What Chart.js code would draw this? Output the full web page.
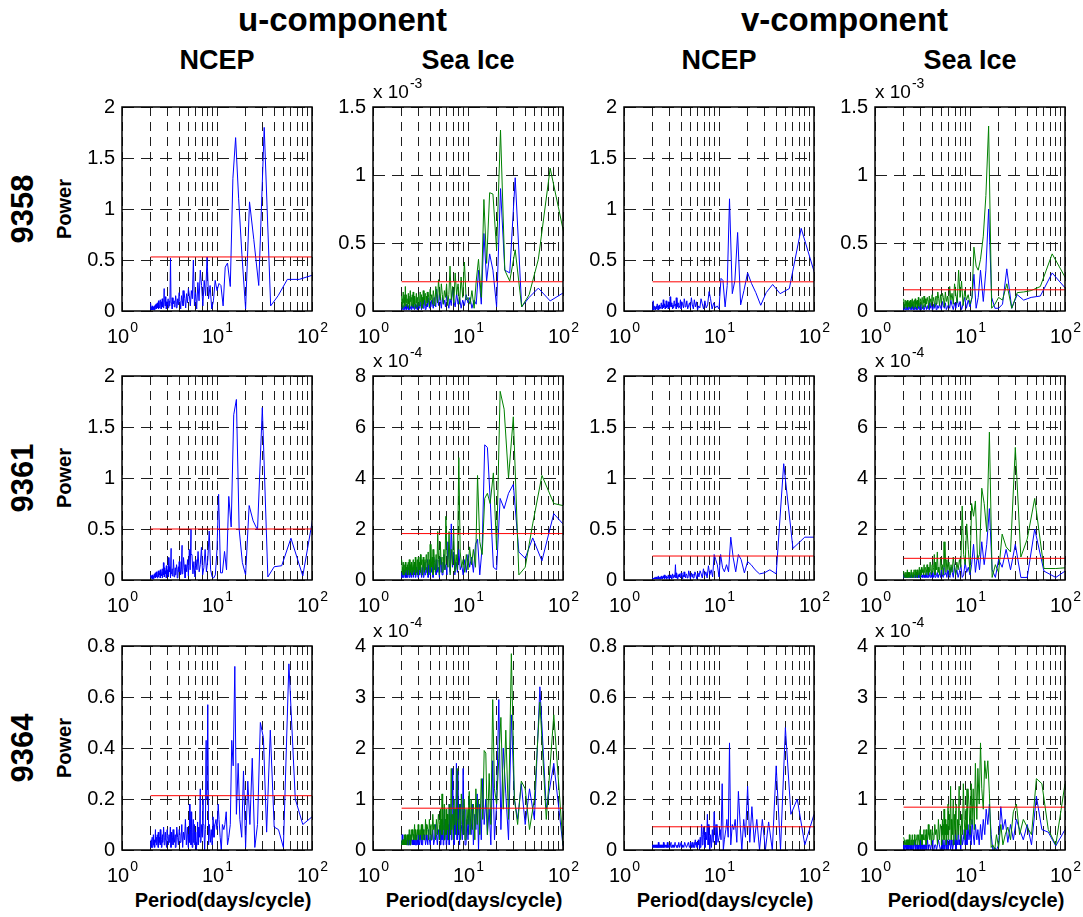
<!DOCTYPE html>
<html lang="en">
<head>
<meta charset="UTF-8">
<meta name="viewport" content="width=device-width, initial-scale=1.0">
<script src="https://cdn.jsdelivr.net/npm/chart.js"></script>
<title>Power spectra 9358 / 9361 / 9364</title>
<style>
  html, body { margin: 0; padding: 0; background: #fff; }
  #figure { position: relative; width: 1083px; height: 917px; overflow: hidden;
            font-family: "Liberation Sans", Arial, Helvetica, sans-serif; color: #000; }
  #figure canvas { position: absolute; }
  .lbl { position: absolute; font-weight: bold; white-space: nowrap; line-height: 1;
         transform: translate(-50%, -50%); }
  .rot { transform: translate(-50%, -50%) rotate(-90deg); }
</style>
</head>
<body>
<div id="figure"></div>
<script>
// periods (days/cycle) of the spectral estimates, one list per station record
const periods9358 = [
  110, 73.3, 55, 44, 36.7, 31.4, 27.5, 24.4, 22, 20,
  18.3, 16.9, 15.7, 14.7, 13.8, 12.9, 12.2, 11.6, 11, 10.5,
  10, 9.57, 9.17, 8.8, 8.46, 8.15, 7.86, 7.59, 7.33, 7.1,
  6.88, 6.67, 6.47, 6.29, 6.11, 5.95, 5.79, 5.64, 5.5, 5.37,
  5.24, 5.12, 5, 4.89, 4.78, 4.68, 4.58, 4.49, 4.4, 4.31,
  4.23, 4.15, 4.07, 4, 3.93, 3.86, 3.79, 3.73, 3.67, 3.61,
  3.55, 3.49, 3.44, 3.38, 3.33, 3.28, 3.24, 3.19, 3.14, 3.1,
  3.06, 3.01, 2.97, 2.93, 2.89, 2.86, 2.82, 2.78, 2.75, 2.72,
  2.68, 2.65, 2.62, 2.59, 2.56, 2.53, 2.5, 2.47, 2.44, 2.42,
  2.39, 2.37, 2.34, 2.32, 2.29, 2.27, 2.24, 2.22, 2.2, 2.18,
  2.16, 2.14, 2.12, 2.1, 2.08, 2.06, 2.04, 2.02, 2
];
const periods9361 = [
  120, 80, 60, 48, 40, 34.3, 30, 26.7, 24, 21.8,
  20, 18.5, 17.1, 16, 15, 14.1, 13.3, 12.6, 12, 11.4,
  10.9, 10.4, 10, 9.6, 9.23, 8.89, 8.57, 8.28, 8, 7.74,
  7.5, 7.27, 7.06, 6.86, 6.67, 6.49, 6.32, 6.15, 6, 5.85,
  5.71, 5.58, 5.45, 5.33, 5.22, 5.11, 5, 4.9, 4.8, 4.71,
  4.62, 4.53, 4.44, 4.36, 4.29, 4.21, 4.14, 4.07, 4, 3.93,
  3.87, 3.81, 3.75, 3.69, 3.64, 3.58, 3.53, 3.48, 3.43, 3.38,
  3.33, 3.29, 3.24, 3.2, 3.16, 3.12, 3.08, 3.04, 3, 2.96,
  2.93, 2.89, 2.86, 2.82, 2.79, 2.76, 2.73, 2.7, 2.67, 2.64,
  2.61, 2.58, 2.55, 2.53, 2.5, 2.47, 2.45, 2.42, 2.4, 2.38,
  2.35, 2.33, 2.31, 2.29, 2.26, 2.24, 2.22, 2.2, 2.18, 2.16,
  2.14, 2.12, 2.11, 2.09, 2.07, 2.05, 2.03, 2.02, 2
];
const periods9364 = [
  100, 80, 66.7, 57.1, 50, 44.4, 40, 36.4, 33.3, 30.8,
  28.6, 26.7, 25, 23.5, 22.2, 21.1, 20, 19, 18.2, 17.4,
  16.7, 16, 15.4, 14.8, 14.3, 13.8, 13.3, 12.9, 12.5, 12.1,
  11.8, 11.4, 11.1, 10.8, 10.5, 10.3, 10, 9.76, 9.52, 9.3,
  9.09, 8.89, 8.7, 8.51, 8.33, 8.16, 8, 7.84, 7.69, 7.55,
  7.41, 7.27, 7.14, 7.02, 6.9, 6.78, 6.67, 6.56, 6.45, 6.35,
  6.25, 6.15, 6.06, 5.97, 5.88, 5.8, 5.71, 5.63, 5.56, 5.48,
  5.41, 5.33, 5.26, 5.19, 5.13, 5.06, 5,
  4.88, 4.76, 4.65, 4.55, 4.44, 4.35, 4.26, 4.17, 4.08, 4,
  3.92, 3.85, 3.77, 3.7, 3.64, 3.57, 3.51, 3.45, 3.39, 3.33,
  3.28, 3.23, 3.17, 3.13, 3.08, 3.03, 2.99, 2.94, 2.9, 2.86,
  2.82, 2.78, 2.74, 2.7, 2.67, 2.63, 2.6, 2.56, 2.53, 2.5,
  2.47, 2.44, 2.41, 2.38, 2.35, 2.33, 2.3, 2.27, 2.25, 2.22,
  2.2, 2.17, 2.15, 2.13, 2.11, 2.08, 2.06, 2.04, 2.02, 2
];

// ---- station 9358 ----
const uNcep9358 = [
  0.362, 0.31, 0.31, 0.15, 0.05, 1.8, 0.25, 0.7, 1.07, 0.02,
  0.55, 1.1, 1.7, 1.3, 0.24, 0.47, 0.43, 0.05, 0.25, 0.27,
  0.2, 0.3, 0.1, 0.02, 0.25, 0.12, 0.53, 0.15, 0.3, 0.05,
  0.25, 0.4, 0.1, 0.28, 0.02, 0.18, 0.05, 0.5, 0.12, 0.2,
  0.05, 0.15, 0.22, 0.08, 0.17, 0.03, 0.12, 0.2, 0.05, 0.1,
  0.15, 0.02, 0.1, 0.18, 0.06, 0.12, 0.03, 0.09, 0.15, 0.04,
  0.1, 0.07, 0.13, 0.02, 0.08, 0.11, 0.52, 0.05, 0.1, 0.03,
  0.12, 0.06, 0.09, 0.02, 0.14, 0.05, 0.1, 0.22, 0.03, 0.08,
  0.12, 0.04, 0.09, 0.02, 0.07, 0.11, 0.03, 0.06, 0.1, 0.02,
  0.08, 0.05, 0.03, 0.07, 0.02, 0.06, 0.04, 0.01, 0.05, 0.02,
  0.04, 0.01, 0.03, 0.05, 0.01, 0.02, 0.04, 0.01, 0.08
];
const uIceBlue9358 = [
  0.15, 0.074, 0.168, 0.1, 0.03, 0.98, 0.28, 0.3, 0.9, 0.03,
  0.3, 0.42, 0.22, 0.57, 0.05, 0.3, 0.05, 0.08, 0.02, 0.1,
  0.06, 0.12, 0.04, 0.08, 0.02, 0.1, 0.05, 0.13, 0.03, 0.07,
  0.17, 0.04, 0.09, 0.02, 0.06, 0.11, 0.03, 0.08, 0.05, 0.1,
  0.02, 0.07, 0.12, 0.04, 0.09, 0.16, 0.03, 0.06, 0.1, 0.02,
  0.05, 0.08, 0.03, 0.07, 0.02, 0.06, 0.1, 0.03, 0.05, 0.01,
  0.04, 0.08, 0.02, 0.06, 0.03, 0.05, 0.01, 0.04, 0.07, 0.02,
  0.05, 0.03, 0.06, 0.01, 0.04, 0.02, 0.05, 0.03, 0.01, 0.04,
  0.06, 0.02, 0.03, 0.05, 0.01, 0.04, 0.02, 0.03, 0.01, 0.05,
  0.02, 0.04, 0.01, 0.03, 0.02, 0.05, 0.01, 0.03, 0.02, 0.04,
  0.01, 0.03, 0.02, 0.01, 0.04, 0.02, 0.01, 0.03, 0.02
];
const uIceGreen9358 = [
  0.463, 1.05, 0.38, 0.12, 0.03, 0.45, 0.22, 0.3, 1.33, 0.45,
  0.86, 0.87, 0.35, 0.82, 0.1, 0.38, 0.22, 0.02, 0.15, 0.05,
  0.1, 0.08, 0.36, 0.1, 0.25, 0.05, 0.2, 0.12, 0.28, 0.06,
  0.18, 0.08, 0.33, 0.12, 0.04, 0.2, 0.1, 0.15, 0.05, 0.12,
  0.2, 0.08, 0.14, 0.23, 0.06, 0.12, 0.18, 0.04, 0.1, 0.15,
  0.05, 0.12, 0.08, 0.16, 0.03, 0.1, 0.14, 0.06, 0.11, 0.04,
  0.13, 0.08, 0.15, 0.05, 0.1, 0.02, 0.12, 0.07, 0.14, 0.04,
  0.09, 0.12, 0.03, 0.1, 0.06, 0.13, 0.02, 0.08, 0.11, 0.05,
  0.14, 0.03, 0.09, 0.12, 0.04, 0.1, 0.07, 0.15, 0.02, 0.08,
  0.11, 0.05, 0.13, 0.03, 0.09, 0.06, 0.12, 0.04, 0.18, 0.07,
  0.1, 0.03, 0.12, 0.06, 0.14, 0.02, 0.09, 0.05, 0.11
];
const vNcep9358 = [
  0.26, 0.81, 0.22, 0.17, 0.26, 0.18, 0.056, 0.18, 0.27, 0.375,
  0.2, 0.06, 0.77, 0.3, 0.17, 1.1, 0.25, 0.04, 0.3, 0.32,
  0.02, 0.05, 0.03, 0.08, 0.02, 0.12, 0.19, 0.06, 0.03, 0.1,
  0.02, 0.07, 0.12, 0.03, 0.05, 0.01, 0.09, 0.04, 0.11, 0.02,
  0.06, 0.13, 0.03, 0.08, 0.05, 0.02, 0.1, 0.04, 0.07, 0.12,
  0.03, 0.06, 0.09, 0.02, 0.11, 0.05, 0.03, 0.08, 0.04, 0.13,
  0.02, 0.07, 0.05, 0.1, 0.03, 0.06, 0.02, 0.08, 0.04, 0.14,
  0.05, 0.03, 0.09, 0.02, 0.06, 0.04, 0.1, 0.03, 0.05, 0.02,
  0.07, 0.04, 0.11, 0.03, 0.06, 0.02, 0.05, 0.08, 0.03, 0.04,
  0.02, 0.06, 0.03, 0.05, 0.01, 0.04, 0.07, 0.02, 0.03, 0.05,
  0.02, 0.04, 0.01, 0.03, 0.05, 0.02, 0.1, 0.01, 0.02
];
const vIceBlue9358 = [
  0.137, 0.28, 0.11, 0.1, 0.08, 0.12, 0.02, 0.31, 0.05, 0.02,
  0.02, 0.1, 0.75, 0.3, 0.07, 0.3, 0.1, 0.02, 0.27, 0.1,
  0.03, 0.08, 0.02, 0.1, 0.05, 0.01, 0.07, 0.03, 0.09, 0.02,
  0.06, 0.01, 0.04, 0.08, 0.02, 0.05, 0.03, 0.01, 0.06, 0.02,
  0.04, 0.07, 0.01, 0.03, 0.05, 0.02, 0.04, 0.01, 0.06, 0.03,
  0.02, 0.05, 0.01, 0.03, 0.04, 0.02, 0.06, 0.01, 0.03, 0.02,
  0.04, 0.01, 0.03, 0.05, 0.02, 0.01, 0.04, 0.02, 0.03, 0.01,
  0.05, 0.02, 0.01, 0.03, 0.02, 0.04, 0.01, 0.02, 0.03, 0.01,
  0.02, 0.04, 0.01, 0.03, 0.02, 0.01, 0.05, 0.02, 0.01, 0.03,
  0.02, 0.01, 0.03, 0.02, 0.04, 0.01, 0.02, 0.03, 0.01, 0.02,
  0.01, 0.03, 0.02, 0.01, 0.02, 0.04, 0.01, 0.02, 0.01
];
const vIceGreen9358 = [
  0.198, 0.42, 0.18, 0.15, 0.14, 0.135, 0.02, 0.2, 0.08, 0.1,
  0.05, 0.02, 1.36, 0.85, 0.55, 0.38, 0.3, 0.33, 0.47, 0.1,
  0.05, 0.12, 0.08, 0.15, 0.04, 0.22, 0.1, 0.3, 0.06, 0.12,
  0.2, 0.05, 0.13, 0.08, 0.18, 0.04, 0.11, 0.07, 0.14, 0.03,
  0.1, 0.13, 0.06, 0.12, 0.04, 0.09, 0.14, 0.05, 0.11, 0.08,
  0.03, 0.1, 0.07, 0.12, 0.04, 0.09, 0.06, 0.11, 0.02, 0.08,
  0.1, 0.05, 0.09, 0.03, 0.11, 0.06, 0.08, 0.02, 0.1, 0.05,
  0.07, 0.09, 0.03, 0.06, 0.1, 0.04, 0.08, 0.02, 0.07, 0.05,
  0.09, 0.03, 0.06, 0.08, 0.02, 0.07, 0.04, 0.09, 0.03, 0.06,
  0.08, 0.02, 0.05, 0.07, 0.03, 0.06, 0.04, 0.08, 0.02, 0.05,
  0.07, 0.03, 0.06, 0.04, 0.08, 0.02, 0.05, 0.03, 0.09
];

// ---- station 9361 ----
const uNcep9361 = [
  0.985, 0.04, 0.41, 0.14, 0.13, 0.03, 1.69, 0.49, 0.58, 0.73,
  0.05, 0.17, 0.5, 1.77, 1.62, 0.52, 0.82, 0.1, 0.28, 0.07,
  0.07, 0.84, 0.3, 0.05, 0.02, 0.03, 0.1, 0.48, 0.2, 0.08,
  0.3, 0.12, 0.05, 0.32, 0.15, 0.08, 0.28, 0.1, 0.2, 0.03,
  0.18, 0.06, 0.25, 0.5, 0.1, 0.3, 0.04, 0.2, 0.08, 0.15,
  0.02, 0.12, 0.22, 0.06, 0.34, 0.1, 0.05, 0.18, 0.08, 0.13,
  0.02, 0.1, 0.15, 0.05, 0.12, 0.03, 0.09, 0.2, 0.04, 0.11,
  0.06, 0.31, 0.02, 0.13, 0.08, 0.22, 0.03, 0.1, 0.05, 0.14,
  0.02, 0.09, 0.06, 0.12, 0.03, 0.17, 0.05, 0.08, 0.02, 0.11,
  0.06, 0.04, 0.1, 0.02, 0.07, 0.05, 0.09, 0.03, 0.06, 0.02,
  0.05, 0.08, 0.03, 0.04, 0.07, 0.02, 0.05, 0.03, 0.06, 0.01,
  0.04, 0.02, 0.05, 0.03, 0.01, 0.04, 0.02, 0.03, 0.05
];
const uIceBlue9361 = [
  1.87, 2.6, 0.75, 1.65, 0.85, 1.1, 3.75, 3.4, 2.8, 3.2,
  0.4, 0.5, 3.2, 5.2, 5.3, 1.3, 0.2, 1.6, 1.4, 0.3,
  0.9, 0.5, 1.0, 0.3, 0.8, 0.2, 0.6, 0.4, 1.2, 0.3,
  0.7, 0.2, 1.1, 0.5, 2.2, 0.3, 0.8, 1.5, 0.2, 0.6,
  0.4, 1.0, 0.2, 0.7, 0.3, 0.9, 0.1, 0.5, 0.3, 0.8,
  0.2, 0.6, 0.4, 0.9, 0.1, 0.5, 0.3, 0.7, 0.2, 0.4,
  0.6, 0.1, 0.8, 0.3, 0.5, 0.2, 0.7, 0.4, 0.1, 0.6,
  0.3, 0.5, 0.1, 0.4, 0.7, 0.2, 0.3, 0.6, 0.1, 0.4,
  0.2, 0.5, 0.3, 0.1, 0.4, 0.6, 0.2, 0.3, 0.1, 0.5,
  0.2, 0.4, 0.1, 0.3, 0.5, 0.2, 0.1, 0.4, 0.3, 0.2,
  0.5, 0.1, 0.3, 0.2, 0.4, 0.1, 0.3, 0.2, 0.1, 0.4,
  0.2, 0.3, 0.1, 0.2, 0.4, 0.1, 0.2, 0.3, 0.1
];
const uIceGreen9361 = [
  2.85, 3.0, 4.1, 2.2, 0.5, 0.2, 6.4, 4.0, 6.7, 7.4,
  1.2, 4.2, 3.0, 3.4, 3.2, 1.0, 1.5, 4.1, 0.5, 1.2,
  0.6, 1.3, 0.4, 1.0, 0.3, 0.8, 0.5, 1.1, 4.8, 0.4,
  1.0, 0.3, 2.0, 0.6, 1.2, 0.2, 1.9, 0.5, 1.0, 2.5,
  0.4, 1.2, 0.3, 0.9, 0.6, 1.5, 0.2, 0.8, 1.9, 0.4,
  1.0, 0.3, 0.7, 1.2, 0.2, 0.9, 0.5, 1.4, 0.3, 0.8,
  0.6, 1.1, 0.2, 0.7, 1.0, 0.4, 0.8, 0.3, 0.9, 0.5,
  0.2, 0.8, 0.6, 1.0, 0.3, 0.7, 0.4, 0.9, 0.2, 0.6,
  0.8, 0.3, 0.5, 0.9, 0.2, 0.7, 0.4, 0.6, 0.3, 0.8,
  0.5, 0.2, 0.7, 0.4, 0.6, 0.3, 0.8, 0.2, 0.5, 0.4,
  0.7, 0.3, 0.6, 0.2, 0.5, 0.4, 0.7, 0.3, 0.5, 0.2,
  0.6, 0.4, 0.3, 0.7, 0.2, 0.5, 0.3, 0.6, 0.8
];
const vNcep9361 = [
  0.42, 0.42, 0.31, 1.14, 0.06, 0.1, 0.07, 0.06, 0.1, 0.15,
  0.18, 0.07, 0.2, 0.25, 0.08, 0.22, 0.42, 0.08, 0.15, 0.08,
  0.12, 0.25, 0.03, 0.15, 0.2, 0.25, 0.03, 0.1, 0.05, 0.14,
  0.02, 0.08, 0.04, 0.11, 0.02, 0.06, 0.09, 0.03, 0.07, 0.01,
  0.05, 0.08, 0.02, 0.06, 0.03, 0.07, 0.01, 0.05, 0.09, 0.02,
  0.04, 0.06, 0.02, 0.08, 0.03, 0.05, 0.01, 0.07, 0.04, 0.02,
  0.06, 0.03, 0.05, 0.01, 0.04, 0.07, 0.02, 0.15, 0.03, 0.05,
  0.02, 0.04, 0.06, 0.01, 0.03, 0.05, 0.02, 0.04, 0.01, 0.03,
  0.05, 0.02, 0.03, 0.01, 0.04, 0.02, 0.03, 0.05, 0.01, 0.02,
  0.04, 0.02, 0.03, 0.01, 0.02, 0.04, 0.01, 0.03, 0.02, 0.01,
  0.03, 0.02, 0.01, 0.04, 0.02, 0.01, 0.03, 0.02, 0.01, 0.02,
  0.01, 0.03, 0.02, 0.01, 0.02, 0.01, 0.02, 0.01, 0.02
];
const vIceBlue9361 = [
  0.55, 0.1, 0.35, 2.0, 0.1, 0.1, 1.4, 0.4, 1.2, 0.5,
  0.8, 0.1, 0.4, 2.8, 1.4, 0.6, 1.5, 0.4, 1.0, 0.3,
  1.4, 0.6, 0.2, 0.5, 0.3, 0.7, 0.2, 0.1, 0.6, 0.3,
  0.1, 0.4, 0.2, 0.6, 0.1, 0.3, 0.5, 0.1, 0.2, 0.4,
  0.1, 0.3, 0.2, 0.5, 0.1, 0.2, 0.4, 0.1, 0.3, 0.2,
  0.1, 0.3, 0.2, 0.1, 0.4, 0.2, 0.1, 0.3, 0.1, 0.2,
  0.1, 0.3, 0.2, 0.1, 0.2, 0.1, 0.3, 0.1, 0.2, 0.1,
  0.2, 0.1, 0.3, 0.1, 0.2, 0.1, 0.1, 0.2, 0.1, 0.3,
  0.1, 0.2, 0.1, 0.1, 0.2, 0.1, 0.3, 0.1, 0.2, 0.1,
  0.1, 0.2, 0.1, 0.1, 0.2, 0.1, 0.1, 0.2, 0.1, 0.1,
  0.2, 0.1, 0.1, 0.2, 0.1, 0.1, 0.2, 0.1, 0.1, 0.2,
  0.1, 0.1, 0.2, 0.1, 0.1, 0.2, 0.1, 0.1, 0.1
];
const vIceGreen9361 = [
  0.5, 0.45, 0.45, 3.2, 1.6, 0.9, 5.2, 1.1, 1.3, 1.8,
  0.3, 0.6, 0.1, 5.8, 1.9, 3.0, 3.6, 1.0, 0.8, 3.1,
  2.5, 3.0, 0.3, 1.2, 2.2, 0.6, 1.0, 2.9, 0.5, 0.8,
  0.4, 0.7, 0.2, 0.5, 0.9, 0.3, 0.6, 0.2, 0.7, 0.4,
  0.8, 0.3, 1.5, 0.5, 0.2, 0.6, 0.4, 0.9, 0.2, 0.5,
  0.3, 1.1, 0.4, 0.7, 0.2, 1.0, 0.5, 0.3, 0.6, 0.2,
  0.4, 0.7, 0.3, 0.5, 0.2, 0.6, 0.3, 0.4, 0.2, 0.5,
  0.3, 0.6, 0.2, 0.4, 0.3, 0.5, 0.2, 0.4, 0.1, 0.3,
  0.5, 0.2, 0.3, 0.4, 0.1, 0.3, 0.2, 0.4, 0.1, 0.3,
  0.2, 0.4, 0.1, 0.3, 0.2, 0.1, 0.3, 0.2, 0.4, 0.1,
  0.2, 0.3, 0.1, 0.2, 0.3, 0.1, 0.2, 0.4, 0.1, 0.2,
  0.3, 0.1, 0.2, 0.1, 0.3, 0.2, 0.1, 0.2, 0.35
];

// ---- station 9364 ----
const uNcep9364 = [
  0.13, 0.1, 0.2, 0.73, 0.01, 0.08, 0.09, 0.47, 0.07, 0.44,
  0.5, 0.1, 0.01, 0.36, 0.1, 0.27, 0.01, 0.31, 0.05, 0.12,
  0.34, 0.14, 0.72, 0.33, 0.43, 0.1, 0.05, 0.02, 0.15, 0.1,
  0.08, 0.1, 0.0, 0.05, 0.12, 0.18, 0.08, 0.12, 0.1, 0.05,
  0.13, 0.02, 0.08, 0.03, 0.1, 0.02, 0.57, 0.2, 0.43, 0.08,
  0.0, 0.1, 0.2, 0.05, 0.1, 0.03, 0.24, 0.05, 0.09, 0.02,
  0.11, 0.03, 0.0, 0.07, 0.02, 0.1, 0.03, 0.12, 0.01, 0.07,
  0.15, 0.02, 0.08, 0.18, 0.03, 0.06, 0.01,
  0.09, 0.02, 0.12, 0.04, 0.07, 0.01, 0.1, 0.03, 0.06, 0.08,
  0.02, 0.05, 0.09, 0.01, 0.06, 0.03, 0.08, 0.02, 0.05, 0.07,
  0.01, 0.09, 0.03, 0.06, 0.02, 0.05, 0.08, 0.01, 0.04, 0.07,
  0.02, 0.05, 0.09, 0.03, 0.06, 0.01, 0.04, 0.08, 0.02, 0.05,
  0.03, 0.07, 0.01, 0.04, 0.06, 0.02, 0.05, 0.03, 0.08, 0.01,
  0.04, 0.02, 0.06, 0.03, 0.01, 0.05, 0.02, 0.04, 0.01, 0.03
];
const uIceBlue9364 = [
  0.08, 1.7, 0.8, 3.2, 0.6, 1.2, 0.5, 1.3, 0.6, 1.0,
  2.65, 0.2, 1.1, 2.0, 0.4, 2.95, 0.9, 0.2, 1.75, 0.1,
  0.8, 0.3, 1.0, 0.5, 1.4, 0.2, 0.9, 0.0, 1.1, 0.4,
  0.7, 0.1, 0.9, 0.3, 0.5, 1.0, 0.2, 0.6, 0.1, 0.8,
  0.3, 1.6, 0.2, 0.5, 0.9, 0.1, 0.4, 1.55, 0.2, 1.7,
  0.3, 0.8, 0.1, 0.5, 1.6, 0.2, 0.7, 0.3, 0.9, 0.1,
  0.5, 0.2, 0.7, 0.1, 0.4, 0.6, 0.2, 0.8, 0.1, 0.3,
  0.6, 0.2, 0.4, 0.1, 0.5, 0.3, 0.2,
  0.4, 0.1, 0.3, 0.5, 0.2, 0.1, 0.4, 0.2, 0.3, 0.1,
  0.2, 0.4, 0.1, 0.3, 0.2, 0.1, 0.3, 0.2, 0.4, 0.1,
  0.2, 0.1, 0.3, 0.2, 0.1, 0.3, 0.1, 0.2, 0.1, 0.3,
  0.1, 0.2, 0.1, 0.3, 0.1, 0.2, 0.1, 0.2, 0.3, 0.1,
  0.2, 0.1, 0.2, 0.1, 0.3, 0.1, 0.2, 0.1, 0.1, 0.2,
  0.1, 0.2, 0.1, 0.1, 0.2, 0.1, 0.3, 0.1, 0.2, 0.1
];
const uIceGreen9364 = [
  0.1, 2.65, 0.6, 2.9, 1.0, 0.4, 1.2, 1.35, 0.5, 1.0,
  3.85, 0.6, 2.35, 0.8, 2.6, 1.8, 0.9, 1.2, 2.95, 0.5,
  1.5, 0.3, 1.9, 1.95, 0.6, 1.4, 0.3, 1.0, 0.5, 1.2,
  0.2, 0.9, 0.4, 1.0, 0.3, 1.15, 0.5, 0.8, 0.2, 0.6,
  1.0, 0.3, 0.7, 1.1, 0.2, 0.9, 0.4, 0.6, 1.6, 0.3,
  0.8, 0.5, 1.0, 0.2, 0.7, 0.4, 1.6, 0.3, 0.6, 0.9,
  0.2, 0.7, 0.4, 0.8, 0.3, 0.6, 0.2, 0.9, 0.4, 0.5,
  1.1, 0.3, 0.6, 0.4, 0.8, 0.2, 0.5,
  0.7, 0.3, 0.6, 0.2, 0.5, 0.4, 0.7, 0.2, 0.5, 0.3,
  0.6, 0.2, 0.4, 0.5, 0.3, 0.6, 0.2, 0.4, 0.3, 0.5,
  0.2, 0.5, 0.3, 0.4, 0.2, 0.5, 0.3, 0.4, 0.2, 0.3,
  0.4, 0.2, 0.5, 0.3, 0.2, 0.4, 0.3, 0.2, 0.4, 0.1,
  0.3, 0.2, 0.4, 0.1, 0.3, 0.2, 0.3, 0.1, 0.2, 0.3,
  0.1, 0.2, 0.3, 0.1, 0.2, 0.1, 0.2, 0.1, 0.2, 0.1
];
const vNcep9364 = [
  0.14, 0.02, 0.2, 0.14, 0.48, 0.0, 0.33, 0.0, 0.11, 0.0,
  0.12, 0.0, 0.12, 0.03, 0.17, 0.03, 0.25, 0.05, 0.12, 0.0,
  0.1, 0.23, 0.03, 0.12, 0.08, 0.1, 0.02, 0.42, 0.05, 0.12,
  0.08, 0.04, 0.0, 0.26, 0.04, 0.08, 0.05, 0.03, 0.1, 0.02,
  0.07, 0.15, 0.03, 0.08, 0.01, 0.06, 0.0, 0.1, 0.02, 0.14,
  0.04, 0.07, 0.01, 0.05, 0.09, 0.02, 0.06, 0.1, 0.01, 0.05,
  0.0, 0.04, 0.02, 0.03, 0.01, 0.03, 0.02, 0.04, 0.01, 0.03,
  0.02, 0.01, 0.03, 0.02, 0.01, 0.03, 0.02,
  0.01, 0.03, 0.02, 0.01, 0.02, 0.03, 0.01, 0.02, 0.01, 0.03,
  0.02, 0.01, 0.03, 0.01, 0.02, 0.01, 0.02, 0.03, 0.01, 0.02,
  0.01, 0.02, 0.01, 0.03, 0.02, 0.01, 0.02, 0.01, 0.03, 0.01,
  0.02, 0.01, 0.02, 0.01, 0.02, 0.03, 0.01, 0.02, 0.01, 0.02,
  0.01, 0.02, 0.01, 0.02, 0.01, 0.03, 0.01, 0.02, 0.01, 0.02,
  0.01, 0.02, 0.01, 0.01, 0.02, 0.01, 0.02, 0.01, 0.01, 0.02
];
const vIceBlue9364 = [
  0.4, 0.08, 0.35, 0.4, 1.05, 0.1, 0.5, 0.2, 0.4, 0.6,
  0.2, 0.5, 0.15, 0.6, 0.4, 0.85, 0.1, 0.0, 0.05, 0.0,
  0.3, 0.9, 0.5, 0.8, 0.3, 0.6, 0.2, 0.5, 0.1, 0.4,
  0.2, 0.5, 0.1, 0.3, 0.6, 0.1, 0.4, 0.2, 0.5, 0.1,
  0.3, 0.1, 0.4, 0.2, 0.1, 0.3, 0.0, 0.2, 0.1, 0.4,
  0.1, 0.2, 0.0, 0.3, 0.1, 0.2, 0.1, 0.0, 0.2, 0.1,
  0.0, 0.2, 0.1, 0.1, 0.0, 0.2, 0.1, 0.0, 0.1, 0.2,
  0.1, 0.0, 0.1, 0.2, 0.0, 0.1, 0.1,
  0.0, 0.1, 0.2, 0.1, 0.0, 0.1, 0.1, 0.0, 0.2, 0.1,
  0.1, 0.0, 0.1, 0.1, 0.0, 0.2, 0.1, 0.0, 0.1, 0.1,
  0.0, 0.1, 0.1, 0.0, 0.1, 0.2, 0.0, 0.1, 0.1, 0.0,
  0.1, 0.0, 0.1, 0.1, 0.0, 0.1, 0.2, 0.0, 0.1, 0.0,
  0.1, 0.1, 0.0, 0.1, 0.0, 0.1, 0.1, 0.0, 0.1, 0.0,
  0.1, 0.0, 0.1, 0.0, 0.1, 0.1, 0.0, 0.1, 0.0, 0.1
];
const vIceGreen9364 = [
  1.3, 0.1, 0.4, 1.3, 1.4, 0.3, 0.45, 0.6, 0.3, 0.9,
  0.75, 0.2, 0.45, 0.3, 0.1, 0.5, 0.05, 0.3, 0.0, 0.1,
  0.05, 1.1, 1.75, 1.4, 1.75, 0.8, 1.2, 2.1, 0.9, 1.6,
  0.6, 1.7, 0.4, 1.2, 0.5, 1.3, 0.3, 0.9, 1.2, 0.4,
  0.8, 0.2, 0.6, 1.3, 0.3, 0.7, 0.1, 0.5, 1.25, 0.3,
  0.6, 0.2, 0.9, 0.4, 0.7, 0.1, 1.0, 0.3, 0.6, 0.2,
  1.25, 0.4, 0.7, 0.2, 0.9, 0.3, 0.5, 0.1, 0.6, 0.3,
  0.8, 0.2, 0.5, 0.3, 0.6, 0.1, 0.4,
  0.5, 0.2, 0.6, 0.1, 0.4, 0.3, 0.5, 0.2, 0.3, 0.4,
  0.1, 0.4, 0.2, 0.5, 0.3, 0.2, 0.4, 0.1, 0.3, 0.2,
  0.4, 0.2, 0.3, 0.1, 0.3, 0.2, 0.4, 0.1, 0.2, 0.3,
  0.1, 0.3, 0.2, 0.2, 0.1, 0.3, 0.2, 0.1, 0.2, 0.1,
  0.3, 0.1, 0.2, 0.1, 0.2, 0.3, 0.1, 0.2, 0.1, 0.2,
  0.1, 0.2, 0.1, 0.2, 0.1, 0.1, 0.2, 0.1, 0.2, 0.25
];

// 95% significance level of each panel, rows = stations, cols = uNCEP, uIce, vNCEP, vIce
const sigLevels = [
  [0.53, 0.215, 0.286, 0.156],
  [0.5, 1.82, 0.235, 0.85],
  [0.213, 0.82, 0.091, 0.84]
];
const yMax = [[2, 1.5, 2, 1.5], [2, 8, 2, 8], [0.8, 4, 0.8, 4]];
const yStep = [[0.5, 0.5, 0.5, 0.5], [0.5, 2, 0.5, 2], [0.2, 1, 0.2, 1]];
const yExponent = [[0, -3, 0, -3], [0, -4, 0, -4], [0, -4, 0, -4]];
const stations = ['9358', '9361', '9364'];
const columnNames = ['NCEP', 'Sea Ice', 'NCEP', 'Sea Ice'];
const componentNames = ['u-component', 'v-component'];
const gridPeriods = [1, 2, 3, 4, 5, 6, 7, 8, 9, 10, 20, 30, 40, 50, 60, 70, 80, 90, 100];

const panels = [
  [0, 0, periods9358, uNcep9358, null],
  [0, 1, periods9358, uIceBlue9358, uIceGreen9358],
  [0, 2, periods9358, vNcep9358, null],
  [0, 3, periods9358, vIceBlue9358, vIceGreen9358],
  [1, 0, periods9361, uNcep9361, null],
  [1, 1, periods9361, uIceBlue9361, uIceGreen9361],
  [1, 2, periods9361, vNcep9361, null],
  [1, 3, periods9361, vIceBlue9361, vIceGreen9361],
  [2, 0, periods9364, uNcep9364, null],
  [2, 1, periods9364, uIceBlue9364, uIceGreen9364],
  [2, 2, periods9364, vNcep9364, null],
  [2, 3, periods9364, vIceBlue9364, vIceGreen9364]
];

// layout
const plotLeft = [122, 373, 624, 875];
const plotTop = [107, 376, 646];
const plotW = 190, plotH = 204;
const padL = 62, padR = 28, padT = 32, padB = 44;
const FONT = '"Liberation Sans", Arial, Helvetica, sans-serif';
const GRID = '#1e1e1e';

const fig = document.getElementById('figure');

function addLabel(text, x, y, size, rotated) {
  const el = document.createElement('div');
  el.className = rotated ? 'lbl rot' : 'lbl';
  el.textContent = text;
  el.style.left = x + 'px';
  el.style.top = y + 'px';
  el.style.fontSize = size + 'px';
  fig.appendChild(el);
}

function toPoints(periods, values) {
  return values.map((v, i) => ({ x: periods[i], y: v })).filter(p => p.x !== undefined);
}

// box around the axes, decade labels 10^n and the "x 10^k" multiplier
const axesDecor = {
  id: 'axesDecor',
  afterDraw(chart, args, opts) {
    const { ctx, chartArea: a } = chart;
    const xs = chart.scales.x;
    ctx.save();
    ctx.strokeStyle = '#000';
    ctx.lineWidth = 1.5;
    ctx.strokeRect(a.left, a.top, a.right - a.left, a.bottom - a.top);
    ctx.fillStyle = '#000';
    ctx.textBaseline = 'alphabetic';
    ctx.textAlign = 'left';
    [1, 10, 100].forEach((v, i) => {
      const px = xs.getPixelForValue(v);
      ctx.font = '20px ' + FONT;
      const w1 = ctx.measureText('10').width;
      ctx.font = '14px ' + FONT;
      const w2 = ctx.measureText(String(i)).width;
      const x0 = px - (w1 + w2) / 2;
      ctx.font = '20px ' + FONT;
      ctx.fillText('10', x0, a.bottom + 32);
      ctx.font = '14px ' + FONT;
      ctx.fillText(String(i), x0 + w1 + 1, a.bottom + 21);
    });
    if (opts.exponent) {
      ctx.font = '19px ' + FONT;
      ctx.fillText('x 10', a.left, a.top - 9);
      const w = ctx.measureText('x 10').width;
      ctx.font = '14px ' + FONT;
      ctx.fillText(String(opts.exponent), a.left + w + 1, a.top - 19);
    }
    ctx.restore();
  }
};

componentNames.forEach((t, i) => addLabel(t, (plotLeft[2 * i] + plotLeft[2 * i + 1] + plotW) / 2, 19, 33));
columnNames.forEach((t, c) => addLabel(t, plotLeft[c] + plotW / 2, 60, 27));
stations.forEach((s, r) => {
  addLabel(s, 22, plotTop[r] + plotH / 2, 31, true);
  addLabel('Power', 64, plotTop[r] + plotH / 2, 20, true);
});
plotLeft.forEach(l => addLabel('Period(days/cycle)', l + plotW / 2 + 6, 900, 20));

panels.forEach(([r, c, periods, blue, green]) => {
  const canvas = document.createElement('canvas');
  const W = padL + plotW + padR, H = padT + plotH + padB;
  canvas.width = W;
  canvas.height = H;
  canvas.style.left = (plotLeft[c] - padL) + 'px';
  canvas.style.top = (plotTop[r] - padT) + 'px';
  fig.appendChild(canvas);

  const sig = sigLevels[r][c];
  const datasets = [
    { data: [{ x: 2, y: sig }, { x: 100, y: sig }], borderColor: '#ff0000', borderWidth: 1, pointRadius: 0 }
  ];
  if (green) {
    datasets.push({ data: toPoints(periods, green), borderColor: '#008000', borderWidth: 1, pointRadius: 0 });
  }
  datasets.push({ data: toPoints(periods, blue), borderColor: '#0000ff', borderWidth: 1, pointRadius: 0 });

  new Chart(canvas, {
    type: 'line',
    data: { datasets },
    options: {
      responsive: false,
      animation: false,
      devicePixelRatio: 1,
      events: [],
      layout: { padding: { left: 0, right: padR, top: padT, bottom: 0 } },
      elements: { line: { tension: 0 } },
      plugins: {
        legend: { display: false },
        tooltip: { enabled: false },
        axesDecor: { exponent: yExponent[r][c] }
      },
      scales: {
        x: {
          type: 'logarithmic',
          min: 1,
          max: 100,
          afterBuildTicks: axis => { axis.ticks = gridPeriods.map(v => ({ value: v })); },
          afterFit: axis => { axis.height = padB; },
          ticks: { display: false, autoSkip: false },
          grid: { color: GRID, lineWidth: 1, drawTicks: false },
          border: { display: false, dash: [9, 6] }
        },
        y: {
          min: 0,
          max: yMax[r][c],
          afterFit: axis => { axis.width = padL; },
          ticks: {
            stepSize: yStep[r][c],
            color: '#000',
            padding: 7,
            font: { family: FONT, size: 20 },
            callback: v => String(+v.toFixed(2))
          },
          grid: { color: GRID, lineWidth: 1, drawTicks: false },
          border: { display: false, dash: [12, 7] }
        }
      }
    },
    plugins: [axesDecor]
  });
});
</script>
</body>
</html>
